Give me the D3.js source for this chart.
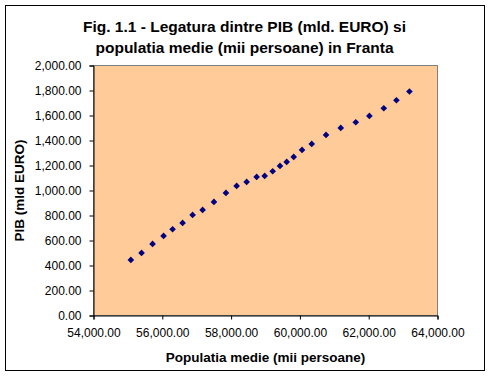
<!DOCTYPE html>
<html>
<head>
<meta charset="utf-8">
<script src="https://cdn.jsdelivr.net/npm/d3@7"></script>
<style>
  body { margin: 0; background: #fff; }
  text { font-family: Arial, "Liberation Sans", sans-serif; }
</style>
</head>
<body>
<svg id="chart" width="491" height="377"></svg>
<script>
// populatia medie (mii persoane)
const populatie = [55086, 55397, 55717, 56037, 56299, 56590, 56881, 57172, 57501, 57850,
  58161, 58452, 58743, 58976, 59209, 59421, 59616, 59820, 60062, 60344,
  60760, 61188, 61624, 62020, 62439, 62806, 63184];
// PIB (mld EURO)
const pib = [445, 501, 573, 637, 690, 741, 805, 845, 909, 981,
  1037, 1069, 1109, 1117, 1154, 1197, 1229, 1269, 1325, 1373,
  1445, 1501, 1546, 1597, 1658, 1722, 1792];
const xTicks = [54000, 56000, 58000, 60000, 62000, 64000];
const yTicks = [0, 200, 400, 600, 800, 1000, 1200, 1400, 1600, 1800, 2000];
const titleLines = ["Fig. 1.1 - Legatura dintre PIB (mld. EURO) si", "populatia medie (mii persoane) in Franta"];

const data = populatie.map((p, i) => ({ x: p, y: pib[i] }));

const svg = d3.select("#chart");
const margin = { left: 93.5, right: 53.5, top: 65.5, bottom: 61.5 };
const W = 491, H = 377;

// outer frame
svg.append("rect")
  .attr("x", 5.5).attr("y", 5.5)
  .attr("width", 479).attr("height", 365)
  .attr("fill", "#fff").attr("stroke", "#000").attr("stroke-width", 1);

const x = d3.scaleLinear()
  .domain([54000, 64000])
  .range([margin.left, W - margin.right]);

const y = d3.scaleLinear()
  .domain([0, 2000])
  .range([H - margin.bottom, margin.top]);

// plot area
svg.append("rect")
  .attr("x", x(54000)).attr("y", y(2000))
  .attr("width", x(64000) - x(54000)).attr("height", y(0) - y(2000))
  .attr("fill", "#FFCC99").attr("stroke", "#808080");

const fmt = d3.format(",.2f");

const xAxis = svg.append("g")
  .attr("transform", `translate(0,${y(0)})`)
  .call(d3.axisBottom(x).tickValues(xTicks).tickFormat(fmt).tickSize(4).tickPadding(9));

const yAxis = svg.append("g")
  .attr("transform", `translate(${x(54000)},0)`)
  .call(d3.axisLeft(y).tickValues(yTicks).tickFormat(fmt).tickSize(4).tickPadding(8));

[xAxis, yAxis].forEach(g => {
  g.select(".domain").attr("stroke", "#000");
  g.selectAll(".tick line").attr("stroke", "#000");
  g.selectAll(".tick text")
    .attr("fill", "#000")
    .style("font-size", "12px")
    .style("font-family", "Arial, 'Liberation Sans', sans-serif");
});

// points
svg.append("g")
  .selectAll("path")
  .data(data)
  .join("path")
  .attr("d", d3.symbol(d3.symbolSquare, 22))
  .attr("transform", d => `translate(${x(d.x)},${y(d.y)}) rotate(45)`)
  .attr("fill", "#000080");

// title
svg.append("g")
  .selectAll("text")
  .data(titleLines)
  .join("text")
  .attr("x", 244.5)
  .attr("y", (d, i) => 32 + i * 21)
  .attr("text-anchor", "middle")
  .style("font-size", "15.5px")
  .style("font-weight", "bold")
  .text(d => d);

// axis titles
svg.append("text")
  .attr("x", (x(54000) + x(64000)) / 2)
  .attr("y", 362)
  .attr("text-anchor", "middle")
  .style("font-size", "13.5px")
  .style("font-weight", "bold")
  .text("Populatia medie (mii persoane)");

svg.append("text")
  .attr("transform", `translate(23.5,${(y(0) + y(2000)) / 2}) rotate(-90)`)
  .attr("text-anchor", "middle")
  .style("font-size", "13.5px")
  .style("font-weight", "bold")
  .text("PIB (mld EURO)");
</script>
</body>
</html>
